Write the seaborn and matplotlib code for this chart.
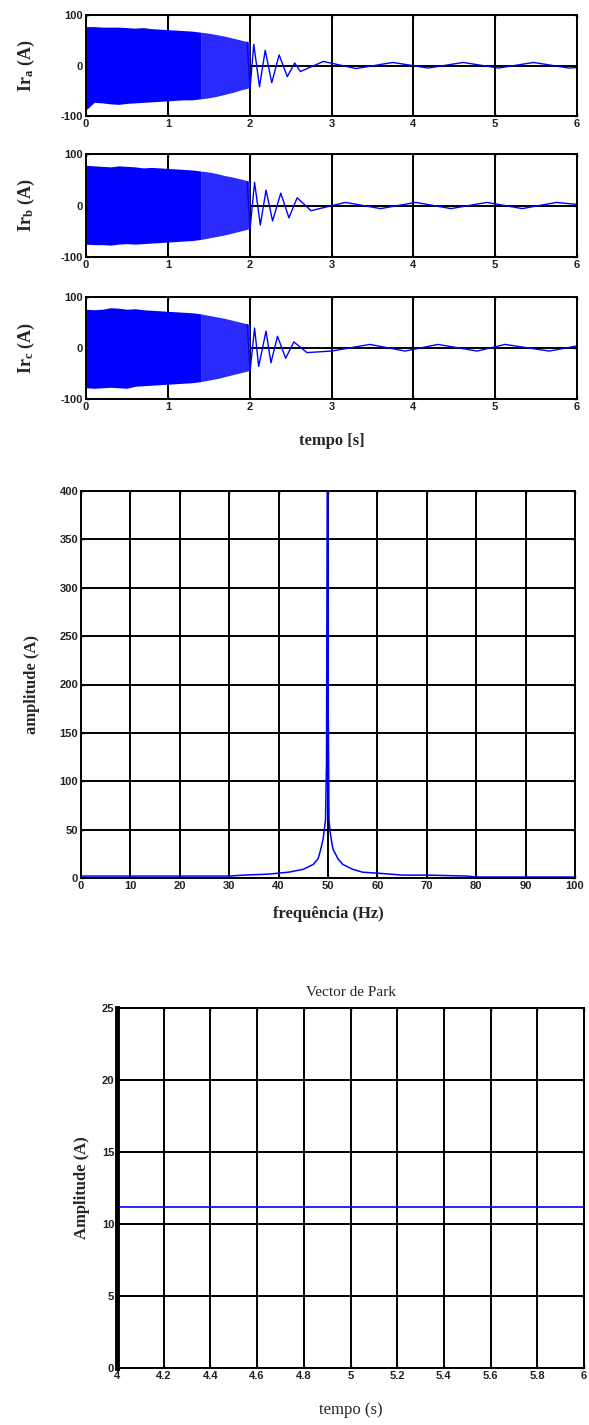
import numpy as np
import pandas as pd
import seaborn as sns
import matplotlib
matplotlib.use("Agg")
import matplotlib.pyplot as plt

# ---------------- data ----------------
# envelope of the dense start-up region (0 .. 2.0 s)
env_t = [0.0, 0.1, 0.2, 0.3, 0.4, 0.5, 0.6, 0.7, 0.8, 0.9, 1.0, 1.1, 1.2, 1.3,
         1.4, 1.5, 1.6, 1.7, 1.8, 1.9, 2.0]
env_up_a = [77, 77, 76, 76, 76, 75, 74, 75, 73, 72, 71, 70, 69, 68, 66, 64, 61, 58, 54, 50, 46]
env_lo_a = [-88, -73, -74, -76, -77, -75, -74, -73, -72, -71, -70, -69, -68, -68, -66, -64, -61, -57, -53, -48, -44]
env_up_b = [78, 77, 76, 75, 77, 76, 75, 73, 74, 73, 72, 71, 70, 69, 67, 65, 62, 58, 55, 51, 47]
env_lo_b = [-75, -76, -76, -77, -75, -74, -75, -74, -73, -72, -71, -70, -69, -68, -66, -63, -60, -57, -53, -49, -45]
env_up_c = [76, 75, 76, 79, 78, 76, 77, 75, 74, 73, 72, 71, 70, 69, 67, 64, 61, 58, 54, 50, 46]
env_lo_c = [-78, -79, -78, -77, -78, -79, -75, -74, -73, -72, -71, -70, -69, -68, -66, -63, -60, -56, -52, -48, -44]
dense_split = 14  # index of 1.4 s: beyond it the band is lighter (individual cycles)

# individual extrema of the oscillation after 2.0 s
fast_t = [1.97, 2.005]
fast_v = [46, -45]

tail_t_a = [2.05, 2.12, 2.19, 2.27, 2.36, 2.46, 2.55, 2.62, 2.90, 3.30, 3.75, 4.18,
            4.61, 5.04, 5.47, 5.90, 6.00]
tail_v_a = [42, -42, 30, -34, 21, -22, 5, -12, 8, -6, 6, -5, 6, -5, 6, -5, -4]

tail_t_b = [2.06, 2.13, 2.20, 2.28, 2.38, 2.48, 2.58, 2.75, 3.17, 3.60, 4.03, 4.46,
            4.90, 5.33, 5.75, 6.00]
tail_v_b = [45, -38, 30, -30, 24, -24, 15, -10, 6, -6, 6, -6, 6, -6, 6, 2]

tail_t_c = [2.06, 2.11, 2.20, 2.26, 2.34, 2.44, 2.54, 2.70, 3.00, 3.47, 3.90, 4.30,
            4.78, 5.12, 5.66, 6.00]
tail_v_c = [39, -36, 33, -29, 23, -20, 12, -9, -6, 7, -6, 7, -6, 7, -6, 4]

# spectrum
freq = [0, 10, 20, 30, 33, 38, 42, 45, 47, 48, 48.5, 49.0, 49.5, 49.7, 49.85, 49.95,
        50.05, 50.2, 50.5, 51, 52, 53, 55, 57, 60, 65, 70, 78, 80, 90, 100]
amp = [2, 2, 2, 2, 3, 4, 6, 9, 14, 20, 29, 40, 60, 120, 420, 420,
       175, 60, 45, 30, 20, 14, 9, 6, 5, 3, 3, 2, 1, 1, 1]

# Park vector
park_t = [4.0, 4.5, 5.0, 5.5, 6.0]
park_v = [11.2, 11.2, 11.2, 11.2, 11.2]

cur_xticks = [0, 1, 2, 3, 4, 5, 6]
cur_yticks = [-100, 0, 100]
spec_xticks = list(range(0, 101, 10))
spec_yticks = list(range(0, 401, 50))
park_xticks = [4, 4.2, 4.4, 4.6, 4.8, 5, 5.2, 5.4, 5.6, 5.8, 6]
park_xticklabels = ["4", "4.2", "4.4", "4.6", "4.8", "5", "5.2", "5.4", "5.6", "5.8", "6"]
park_yticks = [0, 5, 10, 15, 20, 25]

# ---------------- style ----------------
sns.set_theme(style="white")
plt.rcParams['font.family'] = ['Liberation Sans', 'DejaVu Sans']
plt.rcParams['axes.unicode_minus'] = False
plt.rcParams['mathtext.fontset'] = 'custom'
plt.rcParams['mathtext.rm'] = 'Liberation Serif'
plt.rcParams['mathtext.bf'] = 'Liberation Serif:bold'
plt.rcParams['mathtext.it'] = 'Liberation Serif:italic'

BLUE = '#0000ff'
SERIF = ['Liberation Serif', 'DejaVu Serif']

fig = plt.figure(figsize=(5.89, 14.25), dpi=100)
W, H = 589.0, 1425.0


def add_ax(left, top, right, bottom):
    return fig.add_axes([left / W, 1 - bottom / H, (right - left) / W, (bottom - top) / H])


def style(ax, lw_grid=1.4):
    ax.grid(True, color='black', linewidth=lw_grid, linestyle='-')
    ax.set_axisbelow(True)
    for s in ax.spines.values():
        s.set_color('black')
        s.set_linewidth(1.4)
        s.set_visible(True)
    ax.tick_params(direction='in', length=2, width=1, colors='black',
                   labelsize=8, pad=2, top=True, right=True, bottom=True, left=True)
    for lab in ax.get_xticklabels() + ax.get_yticklabels():
        lab.set_fontweight('bold')
        lab.set_color('#222222')


cur_axes = [add_ax(86, 15, 577, 116), add_ax(86, 154, 577, 257), add_ax(86, 297, 577, 399)]
phases = [
    ("a", env_up_a, env_lo_a, tail_t_a, tail_v_a),
    ("b", env_up_b, env_lo_b, tail_t_b, tail_v_b),
    ("c", env_up_c, env_lo_c, tail_t_c, tail_v_c),
]
k = dense_split
for ax, (name, up, lo, tt, tv) in zip(cur_axes, phases):
    ax.fill_between(env_t[:k + 1], lo[:k + 1], up[:k + 1], color=BLUE, linewidth=0)
    ax.fill_between(env_t[k:], lo[k:], up[k:], color='#2a2aff', linewidth=0)
    df = pd.DataFrame({"t": fast_t + tt, "v": fast_v + tv})
    sns.lineplot(data=df, x="t", y="v", ax=ax, color=BLUE, linewidth=1.0,
                 estimator=None, sort=False)
    ax.set_xlim(0, 6)
    ax.set_ylim(-100, 100)
    ax.set_xticks(cur_xticks)
    ax.set_yticks(cur_yticks)
    ax.set_xlabel("")
    ax.set_ylabel(r"$\mathbf{Ir_{%s}}$ (A)" % name, fontsize=13, fontweight='bold',
                  family=SERIF)
    ax.yaxis.set_label_coords(-0.100, 0.5)
    style(ax)

cur_axes[2].set_xlabel("tempo [s]", fontsize=12, fontweight='bold', family=SERIF)
cur_axes[2].xaxis.set_label_coords(0.5, -0.333)

# spectrum
ax4 = add_ax(81, 491, 575, 878)
sns.lineplot(x=freq, y=amp, ax=ax4, color=BLUE, linewidth=1.1, estimator=None, sort=False)
ax4.set_xlim(0, 100)
ax4.set_ylim(0, 400)
ax4.set_xticks(spec_xticks)
ax4.set_yticks(spec_yticks)
ax4.set_xlabel("frequência (Hz)", fontsize=12, fontweight='bold', family=SERIF)
ax4.set_ylabel("amplitude (A)", fontsize=12, fontweight='bold', family=SERIF)
ax4.xaxis.set_label_coords(0.5, -0.072)
ax4.yaxis.set_label_coords(-0.083, 0.5)
style(ax4)

# Park vector
ax5 = add_ax(117, 1008, 584, 1368)
sns.lineplot(x=park_t, y=park_v, ax=ax5, color=BLUE, linewidth=1.2, estimator=None)
ax5.set_xlim(4, 6)
ax5.set_ylim(0, 25)
ax5.set_xticks(park_xticks)
ax5.set_xticklabels(park_xticklabels)
ax5.set_yticks(park_yticks)
ax5.set_xlabel("tempo (s)", fontsize=12, family=SERIF)
ax5.set_ylabel("Amplitude (A)", fontsize=12, fontweight='bold', family=SERIF)
ax5.xaxis.set_label_coords(0.5, -0.094)
ax5.yaxis.set_label_coords(-0.058, 0.5)
ax5.text(0.5, 1 + 15 / 360, "Vector de Park", transform=ax5.transAxes,
         ha='center', va='center', fontsize=11, family=SERIF)
style(ax5)
ax5.spines['left'].set_linewidth(3.5)

fig.savefig("out.png", dpi=100)
